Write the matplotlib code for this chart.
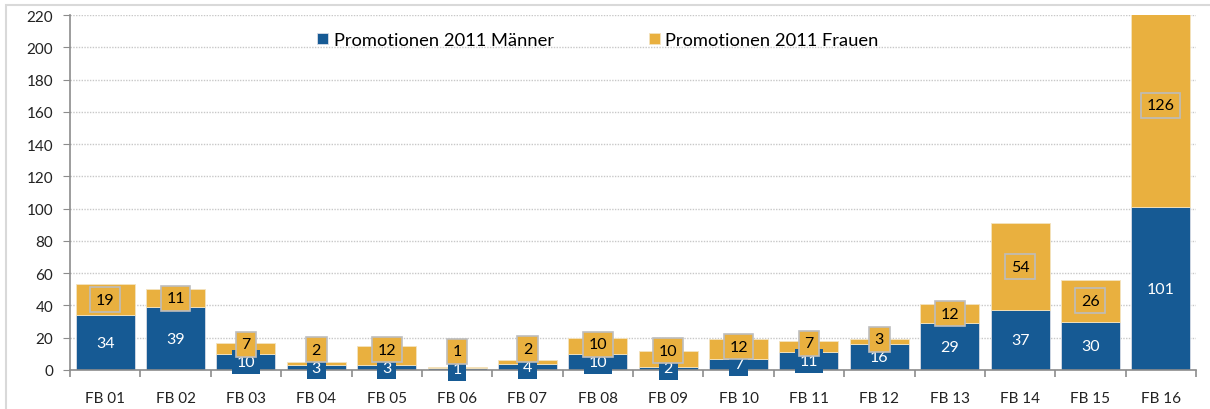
# Promotionen 2011 nach Fachbereich, gestapelt Männer / Frauen
import matplotlib
matplotlib.use('Agg')
import matplotlib.pyplot as plt
from matplotlib.patches import Rectangle
import numpy as np

plt.rcParams['font.family'] = ['Lato', 'DejaVu Sans']

# Daten
fachbereiche = ['FB 01', 'FB 02', 'FB 03', 'FB 04', 'FB 05', 'FB 06', 'FB 07', 'FB 08',
                'FB 09', 'FB 10', 'FB 11', 'FB 12', 'FB 13', 'FB 14', 'FB 15', 'FB 16']
maenner = [34, 39, 10, 3, 3, 1, 4, 10, 2, 7, 11, 16, 29, 37, 30, 101]
frauen = [19, 11, 7, 2, 12, 1, 2, 10, 10, 12, 7, 3, 12, 54, 26, 126]
y_ticks = list(range(0, 221, 20))

BLAU = '#165a94'
ORANGE = '#e9b03f'
GRAU = '#8c8c8c'

W, H = 1210, 410
fig = plt.figure(figsize=(W / 100, H / 100), dpi=100)

# Rahmen des Diagrammbereichs
fig.patches.append(Rectangle((6 / W, -0.1), 1.2, 1 - 6 / H + 0.1, transform=fig.transFigure,
                             fill=False, ec='#d9d9d9', lw=1.5, zorder=0))

ax = fig.add_axes([70 / W, (H - 371) / H, 1126 / W, 355 / H])
x = np.arange(len(fachbereiche))
m = np.array(maenner)
f = np.array(frauen)

b1 = ax.bar(x, m, width=0.84, color=BLAU, edgecolor='#d8dde6', linewidth=0.6,
            label='Promotionen 2011 Männer', zorder=2)
b2 = ax.bar(x, f, bottom=m, width=0.84, color=ORANGE, edgecolor='#f3e3c0', linewidth=0.6,
            label='Promotionen 2011 Frauen', zorder=2)

ax.set_ylim(0, 220)
ax.set_xlim(-0.5, len(fachbereiche) - 0.5)
ax.set_yticks(y_ticks)
ax.set_xticks(x)
ax.set_xticklabels(fachbereiche)
ax.set_xticks(np.arange(-0.5, len(fachbereiche)), minor=True)

ax.yaxis.grid(True, linestyle=(0, (1, 1)), color='#c8c8c8', linewidth=1, zorder=0)
ax.set_axisbelow(True)

for s in ['top', 'right']:
    ax.spines[s].set_visible(False)
for s in ['left', 'bottom']:
    ax.spines[s].set_color(GRAU)
    ax.spines[s].set_linewidth(1.2)

ax.tick_params(axis='y', length=5, color=GRAU, labelsize=11, pad=7, labelcolor='#222222')
ax.tick_params(axis='x', which='major', length=0, labelsize=11, pad=15, labelcolor='#222222')
ax.tick_params(axis='x', which='minor', length=5, color=GRAU, width=1.2)

# Datenbeschriftungen
for i in range(len(x)):
    ax.text(x[i], m[i] / 2, str(m[i]), ha='center', va='center', color='white',
            fontsize=11.5, zorder=5, clip_on=False,
            bbox=dict(boxstyle='square,pad=0.3', fc=BLAU, ec='none'))
    yf = max(m[i] + f[i] / 2, m[i] / 2 + 11)
    ax.text(x[i], yf, str(f[i]), ha='center', va='center', color='black',
            fontsize=11.5, zorder=6, clip_on=False,
            bbox=dict(boxstyle='square,pad=0.35', fc=ORANGE, ec='#bdbdbd', lw=1.2))

fig.legend(handles=[b1, b2], loc='center', bbox_to_anchor=(598 / W, 1 - 41 / H),
           ncol=2, frameon=False, fontsize=13.2, columnspacing=5.2,
           handlelength=0.6, handleheight=0.6, handletextpad=0.3)

fig.savefig('out.png', dpi=100)
